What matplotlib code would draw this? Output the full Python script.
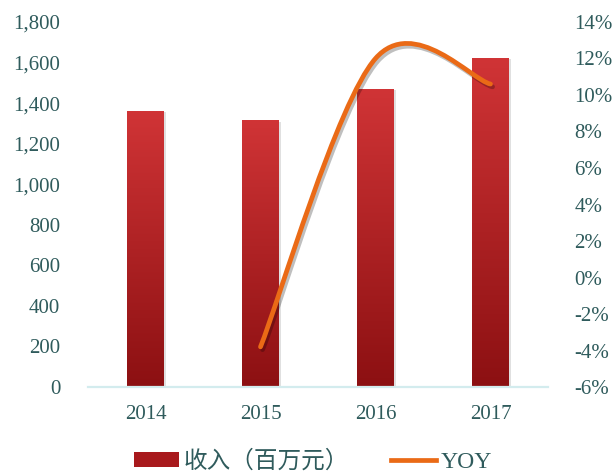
import numpy as np
import matplotlib
matplotlib.use('Agg')
import matplotlib.pyplot as plt
from matplotlib.path import Path
from matplotlib.patches import PathPatch, Patch, Rectangle
from matplotlib.lines import Line2D
from matplotlib.colors import LinearSegmentedColormap
from matplotlib.ticker import FuncFormatter, MultipleLocator
import matplotlib.patheffects as pe

plt.rcParams['font.family'] = ['Liberation Serif', 'Noto Sans CJK SC']

# 数据
years = ['2014', '2015', '2016', '2017']
revenue = [1361, 1312, 1469, 1622]          # 收入（百万元）
yoy_years = ['2015', '2016', '2017']
yoy = [-3.8, 12.0, 10.6]                    # YOY (%)

TICK_COLOR = '#2F5B5C'
LINE_COLOR = '#EA6A16'
AXIS_COLOR = '#D3ECEE'

fig = plt.figure(figsize=(6.14, 4.73), dpi=100)
ax = fig.add_axes([0.1433, 0.1818, 0.7492, 0.7717])
ax2 = ax.twinx()

x = np.arange(len(years))
bar_w = 0.32

# 柱子：上浅下深的渐变
cmap = LinearSegmentedColormap.from_list('bar_grad', ['#8C1012', '#D03436'])
grad = np.linspace(0, 1, 256).reshape(-1, 1)
for xi, v in zip(x, revenue):
    # 阴影
    ax.add_patch(Rectangle((xi - bar_w / 2 + 0.015, 0), bar_w, v - 4,
                           facecolor='#000000', alpha=0.12, edgecolor='none', zorder=1))
    ax.imshow(grad, cmap=cmap, origin='lower', aspect='auto',
              extent=(xi - bar_w / 2, xi + bar_w / 2, 0, v), zorder=2)
ax.set_xlim(-0.5, len(years) - 0.5)
ax.set_ylim(0, 1800)
ax2.set_ylim(-6, 14)

# YOY 平滑曲线（贝塞尔）
px = np.array([years.index(y) for y in yoy_years], dtype=float)
py = np.array(yoy, dtype=float)
pts = np.column_stack([px, py])
verts = [tuple(pts[0])]
codes = [Path.MOVETO]
n = len(pts)
for i in range(n - 1):
    p_prev = pts[i - 1] if i > 0 else pts[i]
    p_next = pts[i + 2] if i + 2 < n else pts[i + 1]
    c1 = pts[i] + (pts[i + 1] - p_prev) / 6
    c2 = pts[i + 1] - (p_next - pts[i]) / 6
    verts += [tuple(c1), tuple(c2), tuple(pts[i + 1])]
    codes += [Path.CURVE4] * 3
curve = PathPatch(Path(verts, codes), facecolor='none', edgecolor=LINE_COLOR,
                  linewidth=3.4, capstyle='round', zorder=5,
                  path_effects=[pe.SimpleLineShadow(offset=(1.5, -2), shadow_color='k',
                                                    alpha=0.25),
                                pe.Normal()])
ax2.add_patch(curve)

# 坐标轴样式
for a in (ax, ax2):
    for s in a.spines.values():
        s.set_visible(False)
ax.spines['bottom'].set_visible(True)
ax.spines['bottom'].set_color(AXIS_COLOR)
ax.spines['bottom'].set_linewidth(1.6)

ax.set_xticks(x)
ax.set_xticklabels(years)
ax.yaxis.set_major_locator(MultipleLocator(200))
ax.yaxis.set_major_formatter(FuncFormatter(lambda v, p: f'{int(v):,}'))
ax2.yaxis.set_major_locator(MultipleLocator(2))
ax2.yaxis.set_major_formatter(FuncFormatter(lambda v, p: f'{int(round(v))}%'))

ax.tick_params(axis='x', length=0, pad=13, labelsize=15, labelcolor=TICK_COLOR)
ax.tick_params(axis='y', length=0, pad=20, labelsize=15, labelcolor=TICK_COLOR)
ax2.tick_params(axis='y', length=0, pad=19, labelsize=15, labelcolor=TICK_COLOR)

legend_elements = [Patch(facecolor='#A8191C', edgecolor='none', label='收入（百万元）'),
                   Line2D([0], [0], color=LINE_COLOR, linewidth=3.4, label='YOY')]
fig.legend(handles=legend_elements, loc='center', bbox_to_anchor=(0.51, 0.024),
           ncol=2, frameon=False, fontsize=17, handlelength=1.9, handleheight=0.6,
           columnspacing=1.8, handletextpad=0.2, labelcolor=TICK_COLOR)

fig.savefig('out.png', dpi=100)
